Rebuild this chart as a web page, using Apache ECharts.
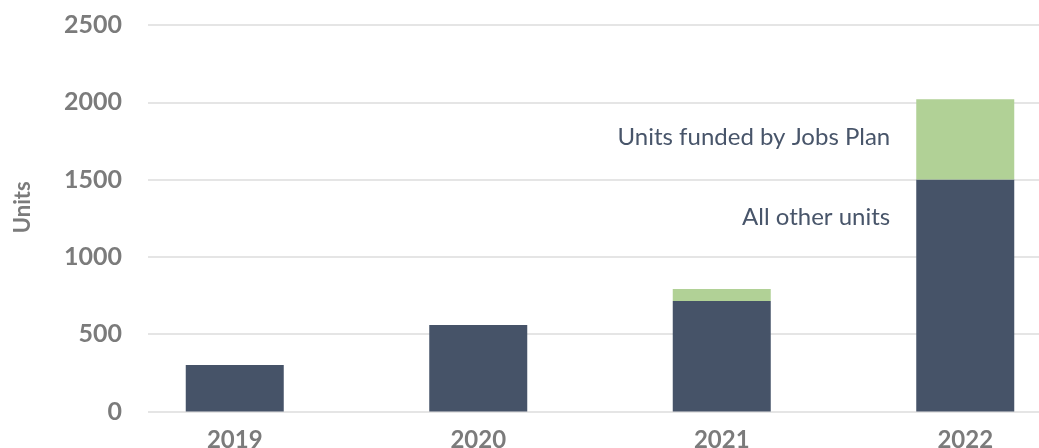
<!DOCTYPE html>
<html>
<head>
<meta charset="utf-8">
<script src="https://cdn.jsdelivr.net/npm/echarts@6/dist/echarts.min.js"></script>
<style>html,body{margin:0;padding:0;background:#fff}#c{width:1039px;height:448px}</style>
</head>
<body>
<div id="c"></div>
<script>
const categories = ['2019', '2020', '2021', '2022'];
const otherUnits = [300, 560, 715, 1500];
const jobsPlanUnits = [null, null, 77, 520];
const seriesNames = ['All other units', 'Units funded by Jobs Plan'];
const yTicks = { min: 0, max: 2500, interval: 500 };

const chart = echarts.init(document.getElementById('c'), null, { renderer: 'canvas' });
const FONT = 'Lato, "Open Sans", sans-serif';
const lastIdx = categories.length - 1;

function withLabel(arr, name) {
  return arr.map((v, i) => {
    if (i !== lastIdx) return v;
    return {
      value: v,
      label: {
        show: true,
        formatter: name,
        position: [-26, 38],
        align: 'right',
        verticalAlign: 'middle',
        color: '#48556a',
        fontSize: 24,
        fontFamily: FONT
      }
    };
  });
}

chart.setOption({
  animation: false,
  backgroundColor: '#fff',
  grid: [
    { left: 148, right: 0, top: 25, bottom: 36.5, outerBoundsMode: 'none' },
    { left: 113, width: 974, top: 25, bottom: 36.5, outerBoundsMode: 'none' }
  ],
  xAxis: [
    { gridIndex: 0, type: 'value', min: 0, max: 1, show: false },
    {
      gridIndex: 1, type: 'category', data: categories,
      axisLine: { show: false }, axisTick: { show: false },
      axisLabel: { color: '#7b7b7b', fontSize: 24, fontWeight: 'bold', fontFamily: FONT, margin: 17 }
    }
  ],
  yAxis: [
    {
      gridIndex: 0, type: 'value', min: yTicks.min, max: yTicks.max, interval: yTicks.interval,
      name: 'Units', nameLocation: 'middle', nameGap: 114, nameRotate: 90,
      nameTextStyle: { color: '#7b7b7b', fontSize: 22, fontWeight: 'bold', fontFamily: FONT, padding: [0, 0, 0, 22] },
      axisLine: { show: false }, axisTick: { show: false },
      axisLabel: { color: '#7b7b7b', fontSize: 25, fontWeight: 'bold', fontFamily: FONT, margin: 26,
        formatter: v => String(v) },
      splitLine: { lineStyle: { color: '#dcdcdc', width: 1.5 } }
    },
    { gridIndex: 1, type: 'value', min: yTicks.min, max: yTicks.max, show: false, splitLine: { show: false } }
  ],
  series: [
    {
      name: seriesNames[0], type: 'bar', stack: 'u', xAxisIndex: 1, yAxisIndex: 1,
      barWidth: 98, itemStyle: { color: '#465368' },
      data: withLabel(otherUnits, seriesNames[0])
    },
    {
      name: seriesNames[1], type: 'bar', stack: 'u', xAxisIndex: 1, yAxisIndex: 1,
      barWidth: 98, itemStyle: { color: '#b1d196' },
      data: withLabel(jobsPlanUnits, seriesNames[1])
    }
  ]
});
</script>
</body>
</html>
